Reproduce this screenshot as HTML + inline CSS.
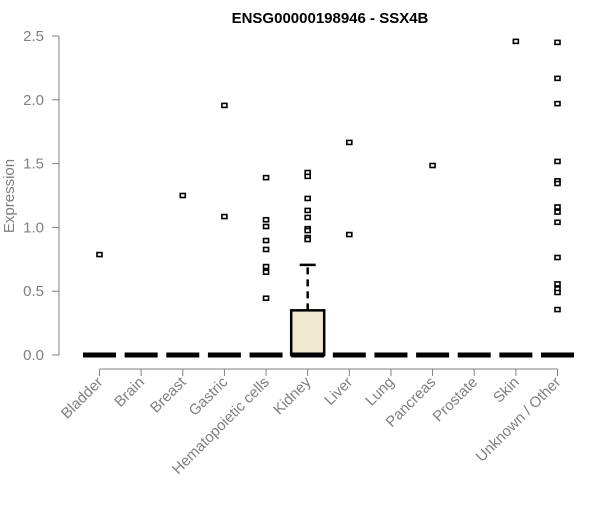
<!DOCTYPE html>
<html><head><meta charset="utf-8"><style>
body{margin:0;background:#fff;}
svg text{font-family:"Liberation Sans",Arial,sans-serif;}
</style></head><body>
<svg id="chart" width="600" height="500" xmlns="http://www.w3.org/2000/svg">
<text x="330" y="23" text-anchor="middle" font-size="15" font-weight="bold" fill="#000">ENSG00000198946 - SSX4B</text>
<text transform="translate(14,196) rotate(-90)" text-anchor="middle" font-size="15" fill="#808080">Expression</text>
<g id="yaxis"></g>
<g id="xaxis"></g>
<g id="plot"></g>
</svg>
<script>
const categories=["Bladder","Brain","Breast","Gastric","Hematopoietic cells","Kidney","Liver","Lung","Pancreas","Prostate","Skin","Unknown / Other"];
const q1=[0,0,0,0,0,0,0,0,0,0,0,0];
const medians=[0,0,0,0,0,0,0,0,0,0,0,0];
const q3=[0,0,0,0,0,0.35,0,0,0,0,0,0];
const whiskerHigh=[0,0,0,0,0,0.706,0,0,0,0,0,0];
const outliers=[[0.787],[],[1.25],[1.956,1.085],[1.39,1.06,1.007,0.897,0.827,0.693,0.649,0.445],[1.43,1.40,1.227,1.133,1.078,0.99,0.975,0.92,0.905],[1.666,0.944],[],[1.485],[],[2.458],[2.45,2.168,1.97,1.517,1.365,1.344,1.16,1.12,1.04,0.764,0.557,0.518,0.49,0.356]];
const yTicks=[0,0.5,1,1.5,2,2.5];
const yTickLabels=["0.0","0.5","1.0","1.5","2.0","2.5"];
const NS="http://www.w3.org/2000/svg";
function y(v){return 355-v*127.6;}
function x(i){return 99.5+i*(557.5-99.5)/(categories.length-1);}
function mk(tag,attrs,parent){const e=document.createElementNS(NS,tag);for(const k in attrs)e.setAttribute(k,attrs[k]);parent.appendChild(e);return e;}
const ya=document.getElementById('yaxis'),xa=document.getElementById('xaxis'),pl=document.getElementById('plot');
let l=mk('line',{x1:59,x2:59,y1:y(2.5),y2:y(0),stroke:'#808080','stroke-width':1},ya);


yTicks.forEach((t,i)=>{
 const tk=mk('line',{x1:52,x2:59,y1:y(t),y2:y(t),stroke:'#808080'},ya);
 
 
 const tx=mk('text',{x:44,y:y(t)+5,'text-anchor':'end','font-size':15,fill:'#808080'},ya);
 tx.textContent=yTickLabels[i];
 
 
});
l=mk('line',{x1:x(0),x2:x(categories.length-1),y1:369,y2:369,stroke:'#808080'},xa);


categories.forEach((c,i)=>{
 const tk=mk('line',{x1:x(i),x2:x(i),y1:369,y2:376,stroke:'#808080'},xa);
 
 
 const tx=mk('text',{transform:`translate(${x(i)+4},${383}) rotate(-45)`,'text-anchor':'end','font-size':15,fill:'#808080'},xa);
 tx.textContent=c;
 
 
 const g=mk('g',{},pl);
 
 
 const cx=x(i),hw=16.5;
 if(whiskerHigh[i]>q3[i]){
  mk('line',{x1:cx,x2:cx,y1:y(q3[i]),y2:y(whiskerHigh[i]),stroke:'#000','stroke-width':2.5,'stroke-dasharray':'7,5'},g);
  mk('line',{x1:cx-8,x2:cx+8,y1:y(whiskerHigh[i]),y2:y(whiskerHigh[i]),stroke:'#000','stroke-width':2.5},g);
 }
 if(q3[i]>q1[i]){
  mk('rect',{x:cx-hw,y:y(q3[i]),width:hw*2,height:y(q1[i])-y(q3[i]),fill:'#efe9cf',stroke:'#000','stroke-width':2.5},g);
 }
 mk('line',{x1:cx-hw,x2:cx+hw,y1:y(medians[i]),y2:y(medians[i]),stroke:'#000','stroke-width':5},g);
 outliers[i].forEach(v=>{
  const p=mk('rect',{x:cx-2.5,y:y(v)-2,width:5,height:4,fill:'#fff',stroke:'#000','stroke-width':1.6},g);
  
  
 });
});
</script>
</body></html>
